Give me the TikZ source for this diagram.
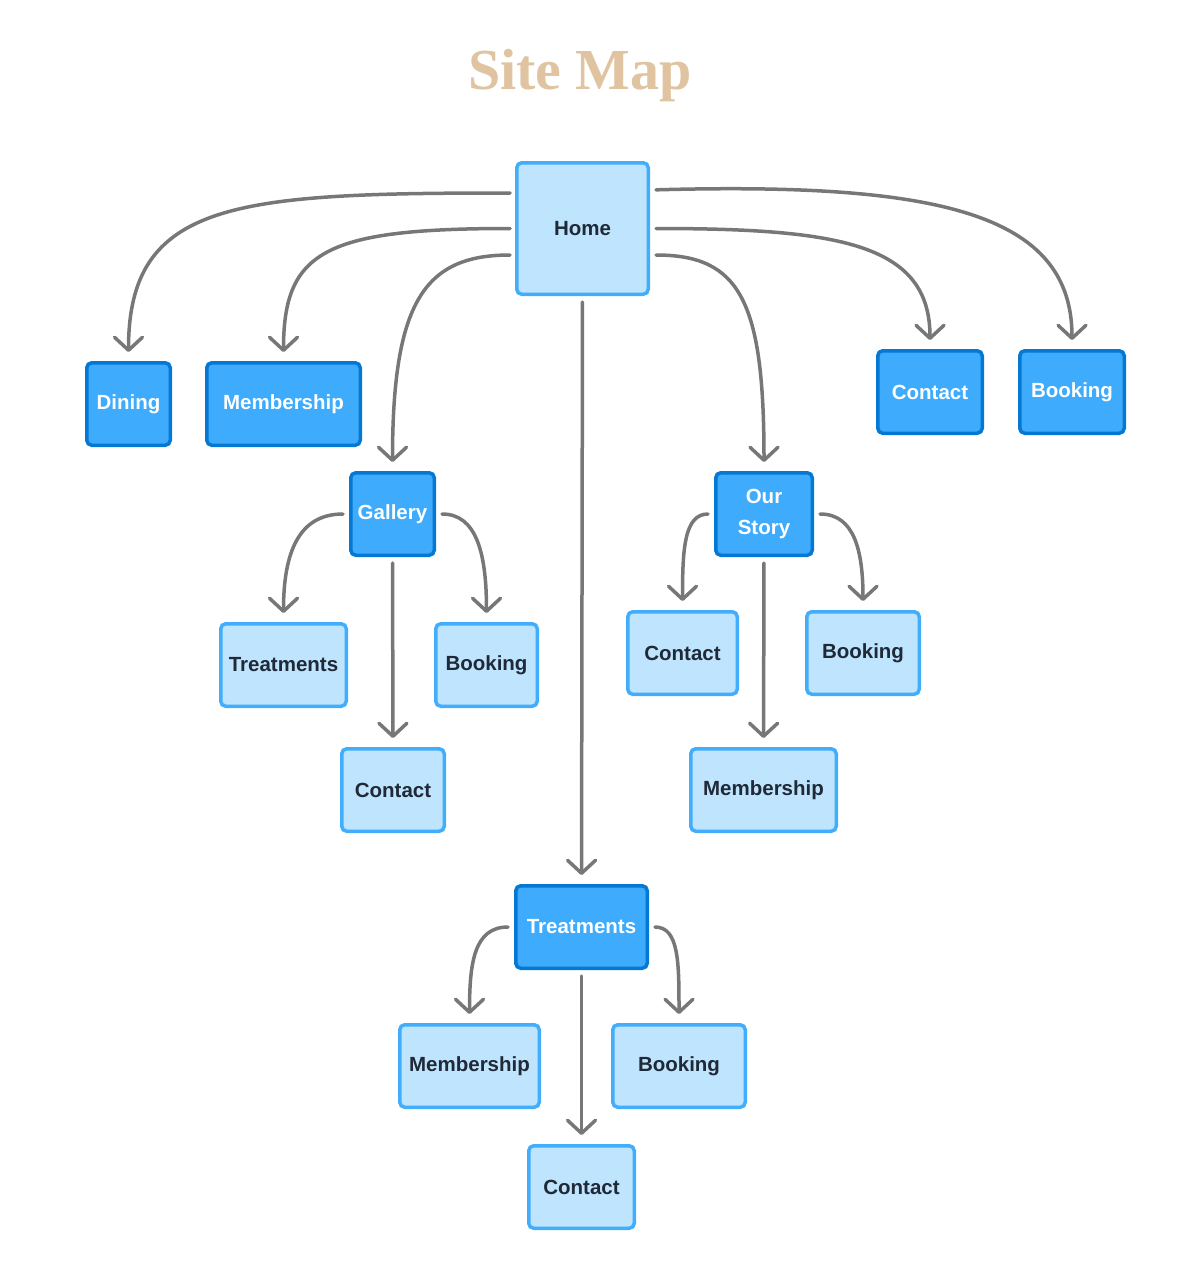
\documentclass[tikz,border=0pt]{standalone}
\usepackage{fontspec}
\setmainfont{Liberation Sans}
\newfontfamily\titlefont{Liberation Serif}
\usetikzlibrary{arrows.meta}
\definecolor{lightfill}{HTML}{BFE4FD}
\definecolor{lightdraw}{HTML}{42ADFB}
\definecolor{darkfill}{HTML}{3EABFC}
\definecolor{darkdraw}{HTML}{0478D2}
\definecolor{txt}{HTML}{1F2937}
\definecolor{conncol}{HTML}{777777}
\definecolor{titlec}{HTML}{E0C3A0}
\begin{document}
\begin{tikzpicture}[x=1pt,y=-1pt,
 box/.style={rectangle, rounded corners=5pt, line width=3.5pt, inner sep=0pt, font=\fontsize{20.5}{31}\selectfont\bfseries, align=center},
 lightbox/.style={box, fill=lightfill, draw=lightdraw, text=txt},
 darkbox/.style={box, fill=darkfill, draw=darkdraw, text=white},
 link/.style={draw=conncol, line width=3.5pt, line cap=round, shorten <=6pt, shorten >=9pt, -{Straight Barb[length=13pt,width=28pt,round]}}]
\useasboundingbox (0,0) rectangle (1200,1279);
\node[font=\titlefont\fontsize{58}{60}\selectfont\bfseries, text=titlec, anchor=base] (title) at (580,90) {Site Map};
% nodes
\node[lightbox, minimum width=131.5pt, minimum height=131.5pt] (home) at (582.5,228.5) {Home};
\node[darkbox, minimum width=83.5pt, minimum height=82.5pt] (dining) at (128.5,404) {Dining};
\node[darkbox, minimum width=153.5pt, minimum height=82.5pt] (memb1) at (283.5,404) {Membership};
\node[darkbox, minimum width=104.5pt, minimum height=82.5pt] (contact1) at (930,392) {Contact};
\node[darkbox, minimum width=104.5pt, minimum height=82.5pt] (booking1) at (1072,392) {Booking};
\node[darkbox, minimum width=83.5pt, minimum height=82.5pt] (gallery) at (392.5,514) {Gallery};
\node[darkbox, minimum width=96.5pt, minimum height=82.5pt] (ourstory) at (764,514) {Our\\Story};
\node[lightbox, minimum width=125.5pt, minimum height=82.5pt] (treat1) at (283.5,665) {Treatments};
\node[lightbox, minimum width=101.5pt, minimum height=82.5pt] (booking2) at (486.5,665) {Booking};
\node[lightbox, minimum width=102.5pt, minimum height=82.5pt] (contact2) at (393,790) {Contact};
\node[lightbox, minimum width=109.5pt, minimum height=82.5pt] (contact3) at (682.5,653) {Contact};
\node[lightbox, minimum width=112.5pt, minimum height=82.5pt] (booking3) at (863,653) {Booking};
\node[lightbox, minimum width=145.5pt, minimum height=82.5pt] (memb2) at (763.5,790) {Membership};
\node[darkbox, minimum width=131.5pt, minimum height=82.5pt] (treat2) at (581.5,927) {Treatments};
\node[lightbox, minimum width=139.5pt, minimum height=82.5pt] (memb3) at (469.5,1066) {Membership};
\node[lightbox, minimum width=132.5pt, minimum height=82.5pt] (booking4) at (679,1066) {Booking};
\node[lightbox, minimum width=105.5pt, minimum height=82.5pt] (contact4) at (581.5,1187) {Contact};
% connectors
\draw[link, shorten <=5pt] ([yshift=35.5pt]home.west) .. controls +(-280,0) and +(0,-160) .. (dining.north);
\draw[link, shorten <=5pt] (home.west) .. controls +(-190,0) and +(0,-110) .. (memb1.north);
\draw[link, shorten <=5pt] ([yshift=-26.5pt]home.west) .. controls +(-90,0) and +(0,-170) .. (gallery.north);
\draw[link] (home.south) -- (treat2.north);
\draw[link] ([yshift=-26.5pt]home.east) .. controls +(90,0) and +(0,-170) .. (ourstory.north);
\draw[link] (home.east) .. controls +(190,0) and +(0,-105) .. (contact1.north);
\draw[link] ([yshift=38.5pt]home.east) .. controls +(290,-8) and +(0,-135) .. (booking1.north);
\draw[link] (gallery.west) .. controls +(-50,0) and +(0,-70) .. (treat1.north);
\draw[link] (gallery.east) .. controls +(40,0) and +(0,-70) .. (booking2.north);
\draw[link] (gallery.south) -- (contact2.north);
\draw[link] (ourstory.west) .. controls +(-30,0) and +(0,-60) .. (contact3.north);
\draw[link] (ourstory.east) .. controls +(40,0) and +(0,-60) .. (booking3.north);
\draw[link] (ourstory.south) -- (memb2.north);
\draw[link] (treat2.west) .. controls +(-40,0) and +(0,-60) .. (memb3.north);
\draw[link] (treat2.east) .. controls +(30,0) and +(0,-60) .. (booking4.north);
\draw[link] (treat2.south) -- (contact4.north);
\end{tikzpicture}
\end{document}
